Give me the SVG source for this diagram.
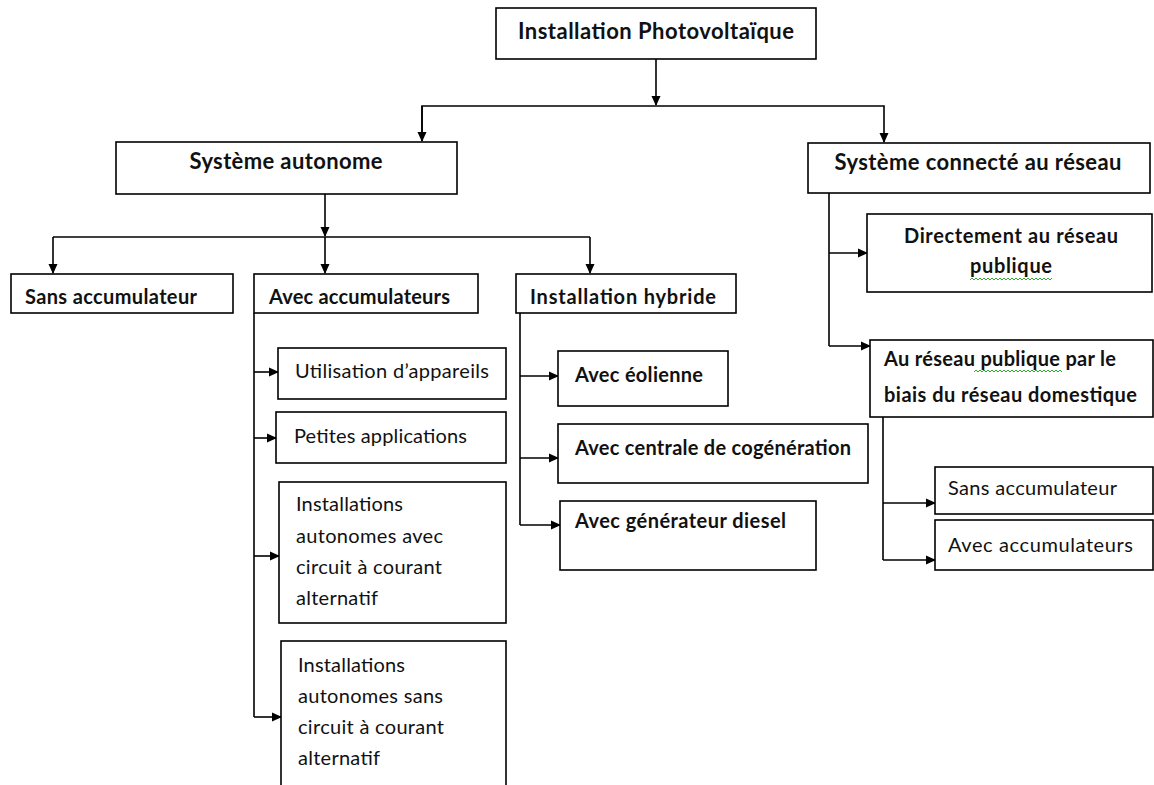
<svg xmlns="http://www.w3.org/2000/svg" width="1154" height="785" viewBox="0 0 1154 785">
<style>
.box{fill:#fff;stroke:#000;stroke-width:1.6}
.t{font-family:Lato,"Liberation Sans",sans-serif;font-size:20px;fill:#111}
.h{font-size:22px}
.b{font-weight:bold}
.c{text-anchor:middle}
.ln{fill:none;stroke:#000;stroke-width:1.6}
.sq{fill:none;stroke:#3a3;stroke-width:1}
</style>
<defs>
<marker id="ah" markerWidth="10" markerHeight="10" refX="9" refY="5" orient="auto" markerUnits="userSpaceOnUse">
<path d="M0,0.5 L10,5 L0,9.5 z" fill="#000"/>
</marker>
</defs>
<rect width="1154" height="785" fill="#fff"/>

<g id="connectors">
<line class="ln" x1="656" y1="59" x2="656" y2="105" marker-end="url(#ah)"/>
<polyline class="ln" points="422,141 422,106 884,106 884,142" marker-end="url(#ah)"/>
<line class="ln" x1="422" y1="106" x2="422" y2="141" marker-end="url(#ah)"/>
<line class="ln" x1="325" y1="194" x2="325" y2="236" marker-end="url(#ah)"/>
<line class="ln" x1="53" y1="237" x2="590" y2="237"/>
<line class="ln" x1="53" y1="237" x2="53" y2="273" marker-end="url(#ah)"/>
<line class="ln" x1="325" y1="237" x2="325" y2="273" marker-end="url(#ah)"/>
<line class="ln" x1="590" y1="237" x2="590" y2="273" marker-end="url(#ah)"/>
<line class="ln" x1="254" y1="313" x2="254" y2="717"/>
<line class="ln" x1="254" y1="372" x2="278" y2="372" marker-end="url(#ah)"/>
<line class="ln" x1="254" y1="438" x2="276" y2="438" marker-end="url(#ah)"/>
<line class="ln" x1="254" y1="556" x2="279" y2="556" marker-end="url(#ah)"/>
<line class="ln" x1="254" y1="717" x2="281" y2="717" marker-end="url(#ah)"/>
<line class="ln" x1="520" y1="313" x2="520" y2="525"/>
<line class="ln" x1="520" y1="376" x2="558" y2="376" marker-end="url(#ah)"/>
<line class="ln" x1="520" y1="458" x2="558" y2="458" marker-end="url(#ah)"/>
<line class="ln" x1="520" y1="525" x2="560" y2="525" marker-end="url(#ah)"/>
<line class="ln" x1="829" y1="193" x2="829" y2="346"/>
<line class="ln" x1="829" y1="253" x2="867" y2="253" marker-end="url(#ah)"/>
<line class="ln" x1="829" y1="346" x2="870" y2="346" marker-end="url(#ah)"/>
<line class="ln" x1="883" y1="417" x2="883" y2="560"/>
<line class="ln" x1="883" y1="503" x2="935" y2="503" marker-end="url(#ah)"/>
<line class="ln" x1="883" y1="560" x2="935" y2="560" marker-end="url(#ah)"/>
</g>

<g id="n-root">
<rect class="box" x="496" y="8" width="320" height="51"/>
<text class="t h b c" x="656" y="39" textLength="276">Installation Photovoltaïque</text>
</g>
<g id="n-autonome">
<rect class="box" x="116" y="142" width="341" height="52"/>
<text class="t h b c" x="286" y="169" textLength="193">Système autonome</text>
</g>
<g id="n-connecte">
<rect class="box" x="808" y="143" width="342" height="50"/>
<text class="t h b c" x="978" y="170" textLength="287">Système connecté au réseau</text>
</g>
<g id="n-sans">
<rect class="box" x="11" y="274" width="222" height="39"/>
<text class="t b" x="25" y="304" textLength="172">Sans accumulateur</text>
</g>
<g id="n-avec">
<rect class="box" x="254" y="274" width="224" height="39"/>
<text class="t b" x="269" y="304" textLength="181">Avec accumulateurs</text>
</g>
<g id="n-hybride">
<rect class="box" x="516" y="274" width="220" height="39"/>
<text class="t b" x="530" y="304" textLength="186">Installation hybride</text>
</g>
<g id="n-utilisation">
<rect class="box" x="278" y="348" width="228" height="51"/>
<text class="t" x="295" y="378" textLength="194">Utilisation d’appareils</text>
</g>
<g id="n-petites">
<rect class="box" x="276" y="412" width="230" height="51"/>
<text class="t" x="294" y="443" textLength="173">Petites applications</text>
</g>
<g id="n-inst-avec">
<rect class="box" x="279" y="482" width="227" height="141"/>
<text class="t" x="296" y="511" textLength="107">Installations</text>
<text class="t" x="296" y="543" textLength="147">autonomes avec</text>
<text class="t" x="296" y="574" textLength="146">circuit à courant</text>
<text class="t" x="296" y="605" textLength="82">alternatif</text>
</g>
<g id="n-inst-sans">
<rect class="box" x="281" y="641" width="225" height="160"/>
<text class="t" x="298" y="672" textLength="107">Installations</text>
<text class="t" x="298" y="703" textLength="145">autonomes sans</text>
<text class="t" x="298" y="734" textLength="146">circuit à courant</text>
<text class="t" x="298" y="765" textLength="82">alternatif</text>
</g>
<g id="n-eolienne">
<rect class="box" x="558" y="351" width="170" height="55"/>
<text class="t b" x="575" y="382" textLength="128">Avec éolienne</text>
</g>
<g id="n-cogeneration">
<rect class="box" x="558" y="424" width="310" height="59"/>
<text class="t b" x="575" y="455" textLength="276">Avec centrale de cogénération</text>
</g>
<g id="n-diesel">
<rect class="box" x="560" y="501" width="256" height="69"/>
<text class="t b" x="575" y="528" textLength="211">Avec générateur diesel</text>
</g>
<g id="n-directement">
<rect class="box" x="867" y="214" width="285" height="78"/>
<text class="t b c" x="1011" y="243" textLength="214">Directement au réseau</text>
<text class="t b c" x="1011" y="273" textLength="82">publique</text>
<path class="sq" d="M970,280 l2,-2 l2,2 l2,-2 l2,2 l2,-2 l2,2 l2,-2 l2,2 l2,-2 l2,2 l2,-2 l2,2 l2,-2 l2,2 l2,-2 l2,2 l2,-2 l2,2 l2,-2 l2,2 l2,-2 l2,2 l2,-2 l2,2 l2,-2 l2,2 l2,-2 l2,2 l2,-2 l2,2 l2,-2 l2,2 l2,-2 l2,2 l2,-2 l2,2 l2,-2 l2,2 l2,-2 l2,2 l2,-2"/>
</g>
<g id="n-domestique">
<rect class="box" x="870" y="340" width="283" height="77"/>
<text class="t b" x="884" y="366" textLength="232">Au réseau publique par le</text>
<text class="t b" x="884" y="402" textLength="253">biais du réseau domestique</text>
<path class="sq" d="M974,372 l2,-2 l2,2 l2,-2 l2,2 l2,-2 l2,2 l2,-2 l2,2 l2,-2 l2,2 l2,-2 l2,2 l2,-2 l2,2 l2,-2 l2,2 l2,-2 l2,2 l2,-2 l2,2 l2,-2 l2,2 l2,-2 l2,2 l2,-2 l2,2 l2,-2 l2,2 l2,-2 l2,2 l2,-2 l2,2 l2,-2 l2,2 l2,-2 l2,2 l2,-2 l2,2 l2,-2 l2,2 l2,-2 l2,2 l2,-2 l2,2"/>
</g>
<g id="n-sans-r">
<rect class="box" x="935" y="467" width="218" height="47"/>
<text class="t" x="948" y="495" textLength="169">Sans accumulateur</text>
</g>
<g id="n-avec-r">
<rect class="box" x="935" y="520" width="218" height="50"/>
<text class="t" x="948" y="552" textLength="185">Avec accumulateurs</text>
</g>
</svg>
